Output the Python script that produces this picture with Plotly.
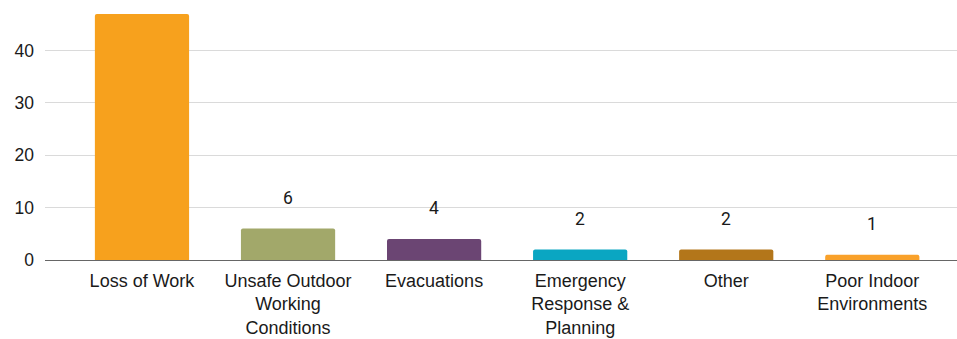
import plotly.graph_objects as go

categories = [
    "Loss of Work",
    "Unsafe Outdoor<br>Working<br>Conditions",
    "Evacuations",
    "Emergency<br>Response &<br>Planning",
    "Other",
    "Poor Indoor<br>Environments",
]
counts = [47, 6, 4, 2, 2, 1]
bar_colors = ["#F7A11D", "#A2A86A", "#6B4573", "#0AA6C2", "#B3761A", "#F9A12A"]
y_ticks = [0, 10, 20, 30, 40]

y_max = 47

fig = go.Figure()
fig.add_trace(
    go.Bar(
        x=list(range(len(categories))),
        y=counts,
        marker=dict(color=bar_colors, line=dict(width=0), cornerradius=2),
        width=0.645,
        hoverinfo="skip",
    )
)

# value labels above the bars (the tallest one runs past the top of the plot)
for i, v in enumerate(counts):
    if v + 6 < y_max:
        fig.add_annotation(
            x=i, y=v, text=str(v), showarrow=False,
            yanchor="middle", yshift=31,
            font=dict(family="Roboto", size=17.5, color="#1a1a1a"),
        )

fig.update_layout(
    width=957,
    height=339,
    margin=dict(l=45, r=0, t=14, b=79),
    paper_bgcolor="white",
    plot_bgcolor="white",
    showlegend=False,
    font=dict(family="Liberation Sans, Arial", size=18, color="#1a1a1a"),
    xaxis=dict(
        range=[-0.664, 5.58],
        tickmode="array",
        tickvals=list(range(len(categories))),
        ticktext=categories,
        showgrid=False,
        zeroline=False,
        showline=False,
        ticks="",
        ticklabelstandoff=8,
        tickfont=dict(size=18, color="#1a1a1a"),
        fixedrange=True,
    ),
    yaxis=dict(
        range=[0, y_max],
        tickmode="array",
        tickvals=y_ticks,
        showgrid=True,
        gridcolor="#DADADA",
        gridwidth=1,
        zeroline=True,
        zerolinecolor="#666666",
        zerolinewidth=1,
        showline=False,
        ticks="",
        ticklabelstandoff=10,
        tickfont=dict(size=17.5, color="#1a1a1a"),
        fixedrange=True,
    ),
)

fig.write_html("out.html")
